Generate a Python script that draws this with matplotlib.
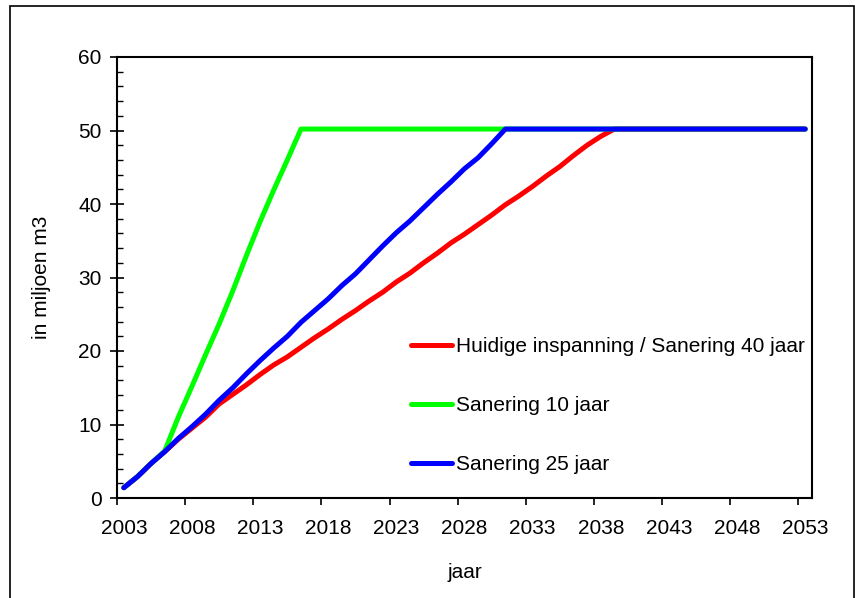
import matplotlib
matplotlib.use("Agg")
import matplotlib.pyplot as plt
from matplotlib.patches import Rectangle
import numpy as np

plt.rcParams['font.family'] = ['Liberation Sans', 'DejaVu Sans']

years = list(range(2003, 2054))

huidig = [1.4, 2.9, 4.7, 6.3, 8.0, 9.5, 11.0, 12.8, 14.1, 15.4, 16.8, 18.1, 19.2,
          20.5, 21.8, 23.0, 24.3, 25.5, 26.8, 28.0, 29.4, 30.6, 32.0, 33.3, 34.7,
          35.9, 37.2, 38.5, 39.9, 41.1, 42.4, 43.8, 45.1, 46.6, 48.0, 49.2, 50.2]
sanering10 = [1.4, 2.9, 4.7, 6.4, 11.0, 15.2, 19.5, 23.7, 28.2, 33.0, 37.6, 41.9,
              46.0, 50.2]
sanering25 = [1.4, 2.9, 4.7, 6.3, 8.1, 9.7, 11.4, 13.3, 15.0, 16.9, 18.7, 20.4,
              22.0, 23.9, 25.5, 27.1, 28.9, 30.5, 32.4, 34.3, 36.1, 37.7, 39.5,
              41.3, 43.0, 44.8, 46.3, 48.2, 50.2]
eindniveau = 50.2

def vul_aan(reeks):
    return reeks + [eindniveau] * (len(years) - len(reeks))

labels = ["Huidige inspanning / Sanering 40 jaar", "Sanering 10 jaar", "Sanering 25 jaar"]
kleuren = ["#FF0000", "#00FF00", "#0000FF"]
series = [vul_aan(huidig), vul_aan(sanering10), vul_aan(sanering25)]

FS = 15
W, H = 855, 598
fig = plt.figure(figsize=(W / 100, H / 100), dpi=100)
fig.patch.set_facecolor("white")

# outer chart frame
fig.add_artist(Rectangle((10 / W, -0.05), (854 - 10) / W, 1.05 - 6 / H,
                         transform=fig.transFigure, fill=False,
                         edgecolor="black", linewidth=1.2))

ax = fig.add_axes([117 / W, 1 - 498 / H, (812 - 117) / W, (498 - 57) / H])

handles = []
for vals, kleur, lab in zip(series, kleuren, labels):
    h, = ax.plot(years, vals, color=kleur, lw=3.6, solid_capstyle="round",
                 solid_joinstyle="round", label=lab)
    handles.append(h)

ax.set_xlim(2002.5, 2053.5)
ax.set_ylim(0, 60)

# category-style x axis: tick marks between categories, labels at centres
ax.set_xticks(np.arange(2002.5, 2053, 5))
ax.set_xticklabels([])
ax.set_xticks(np.arange(2003, 2054, 5), minor=True)
ax.set_xticklabels([str(y) for y in range(2003, 2054, 5)], minor=True)
ax.tick_params(axis="x", which="major", direction="out", length=5, width=1.2)
ax.tick_params(axis="x", which="minor", length=0, pad=15, labelsize=FS)

ax.set_yticks(np.arange(0, 61, 10))
ax.set_yticks(np.arange(0, 61, 2), minor=True)
ax.tick_params(axis="y", which="major", direction="inout", length=10, width=1.2,
               labelsize=FS, pad=6)
ax.tick_params(axis="y", which="minor", direction="in", length=4, width=1.0)

for sp in ax.spines.values():
    sp.set_linewidth(1.5)

ax.set_xlabel("jaar", fontsize=FS, labelpad=18)
ax.set_ylabel("in miljoen m3", fontsize=FS, labelpad=20)

fig.legend(handles=handles, labels=labels, loc="upper left",
           bbox_to_anchor=(411 / W, 1 - 337 / H), frameon=False, fontsize=FS,
           handlelength=1.95, handletextpad=0.2, labelspacing=1.92,
           borderpad=0, borderaxespad=0)

fig.savefig("out.png", dpi=100, facecolor="white")
